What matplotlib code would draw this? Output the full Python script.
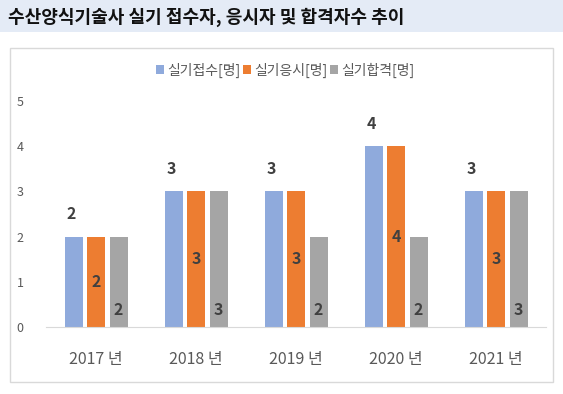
import matplotlib
matplotlib.use("Agg")
import matplotlib.pyplot as plt
from matplotlib.patches import Rectangle
import numpy as np

plt.rcParams['font.family'] = ['Noto Sans CJK KR', 'DejaVu Sans']

title = "수산양식기술사 실기 접수자, 응시자 및 합격자수 추이"
years = ["2017 년", "2018 년", "2019 년", "2020 년", "2021 년"]
series_names = ["실기접수[명]", "실기응시[명]", "실기합격[명]"]
applied = [2, 3, 3, 4, 3]
tested = [2, 3, 3, 4, 3]
passed = [2, 3, 2, 2, 3]
colors = ["#8FAADC", "#ED7D31", "#A5A5A5"]

fig = plt.figure(figsize=(5.63, 3.94), dpi=100)

# title band and chart frame
fig.patches.append(Rectangle((0, 1 - 32 / 394), 1, 32 / 394, transform=fig.transFigure,
                             facecolor="#E4EBF6", edgecolor="none", zorder=0))
fig.patches.append(Rectangle((10 / 563, 1 - 382 / 394), 543 / 563, 334 / 394,
                             transform=fig.transFigure, facecolor="white",
                             edgecolor="#D9D9D9", linewidth=1, zorder=0))
fig.text(8 / 563, 1 - 17 / 394, title, fontsize=13, fontweight="bold",
         va="center", ha="left", color="#111111")

ax = fig.add_axes([46 / 563, 1 - 327 / 394, 500 / 563, 226 / 394])
ax.set_zorder(2)
x = np.arange(len(years))
w = 0.18
off = 0.225
ax.bar(x - off, applied, w, color=colors[0], label=series_names[0], zorder=2)
ax.bar(x, tested, w, color=colors[1], label=series_names[1], zorder=2)
ax.bar(x + off, passed, w, color=colors[2], label=series_names[2], zorder=2)

lab = dict(fontsize=11.5, fontweight="bold", color="#404040", ha="center", va="center")
for i in range(len(years)):
    ax.text(x[i] - off - 0.02, applied[i] + 0.5, str(applied[i]), **lab)
    ax.text(x[i], tested[i] / 2, str(tested[i]), **lab)
    ax.text(x[i] + off, 0.37, str(passed[i]), **lab)

ax.set_xlim(-0.5, len(years) - 0.5)
ax.set_ylim(0, 5)
ax.set_yticks(range(6))
ax.set_xticks(x)
ax.set_xticklabels(years, fontsize=11.5, color="#595959")
for t in ax.get_yticklabels():
    t.set_fontsize(9)
    t.set_color("#595959")
ax.tick_params(axis="y", length=0, pad=16)
ax.tick_params(axis="x", length=0, pad=17)
for s in ["top", "right", "left"]:
    ax.spines[s].set_visible(False)
ax.spines["bottom"].set_color("#D9D9D9")
ax.patch.set_alpha(0)

leg = fig.legend(loc="center", bbox_to_anchor=(285 / 563, 1 - 70 / 394), ncol=3,
                 frameon=False, fontsize=10, handlelength=0.6, handleheight=0.6,
                 handletextpad=0.2, columnspacing=0.2, labelcolor="#595959")
leg.set_zorder(3)

fig.savefig("out.png", dpi=100)
